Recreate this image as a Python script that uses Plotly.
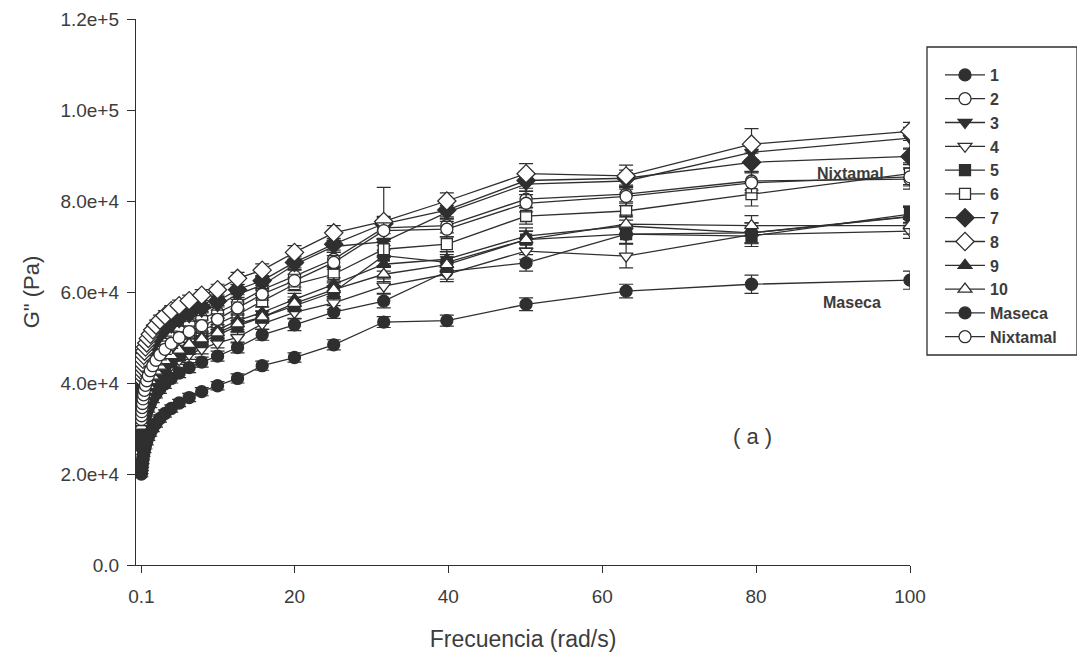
import plotly.graph_objects as go

# ---------------- data ----------------
freq = [0.1, 0.126, 0.158, 0.2, 0.251, 0.316, 0.398, 0.501, 0.631, 0.794,
        1.0, 1.26, 1.58, 2.0, 2.51, 3.16, 3.98, 5.01, 6.31, 7.94,
        10.0, 12.6, 15.8, 20.0, 25.1, 31.6, 39.8, 50.1, 63.1, 79.4, 100.0]

series_names = ["1", "2", "3", "4", "5", "6", "7", "8", "9", "10", "Maseca", "Nixtamal"]

g_1 = [26000, 26700, 27500, 28300, 29100, 30000, 30800, 31700, 32600, 33600,
       34500, 35500, 36600, 37600, 38700, 39800, 41000, 42200, 43400, 44600,
       45900, 47800, 50600, 52800, 55600, 58000, 64500, 66400, 72700, 73000, 76500]
g_2 = [34000, 34800, 35700, 36600, 37500, 38400, 39400, 40400, 41400, 42400,
       43400, 44500, 45600, 46800, 48000, 49100, 50400, 51600, 52900, 54200,
       55500, 57500, 60500, 63500, 67200, 74100, 74600, 80400, 81500, 84400, 84800]
g_3 = [37000, 37800, 38600, 39500, 40400, 41200, 42100, 43100, 44000, 45000,
       45900, 46900, 48000, 49000, 50100, 51200, 52300, 53500, 54600, 55800,
       57000, 59500, 61500, 66000, 70000, 71000, 77500, 83700, 84400, 90700, 93800]
g_4 = [29000, 29800, 30500, 31300, 32200, 33000, 33900, 34800, 35700, 36600,
       37600, 38600, 39600, 40600, 41700, 42800, 43900, 45100, 46300, 47500,
       48800, 50000, 53000, 55500, 57600, 61300, 63900, 69000, 67900, 72600, 73400]
g_5 = [27000, 27900, 28700, 29600, 30600, 31600, 32600, 33600, 34700, 35800,
       36900, 38100, 39300, 40600, 41900, 43200, 44600, 46000, 47500, 49000,
       50500, 52500, 54500, 57000, 60000, 68000, 66500, 71500, 72700, 72300, 77100]
g_6 = [30000, 30900, 31800, 32700, 33600, 34600, 35600, 36600, 37700, 38800,
       39900, 41100, 42300, 43500, 44700, 46000, 47400, 48700, 50100, 51600,
       53000, 55000, 58000, 61700, 63900, 69400, 70500, 76700, 77800, 81500, 86000]
g_7 = [39000, 39800, 40600, 41400, 42200, 43000, 43900, 44700, 45600, 46500,
       47500, 48400, 49400, 50400, 51300, 52400, 53400, 54400, 55500, 56700,
       58000, 60500, 62500, 66500, 70500, 75000, 78000, 84500, 85000, 88500, 89800]
g_8 = [41000, 41800, 42600, 43500, 44300, 45200, 46100, 47000, 47900, 48800,
       49800, 50700, 51700, 52700, 53800, 54800, 55900, 57000, 58100, 59300,
       60500, 63000, 64800, 68700, 73000, 75500, 80000, 86000, 85500, 92500, 95300]
g_9 = [28000, 28900, 29800, 30700, 31600, 32600, 33600, 34700, 35800, 36900,
       38000, 39200, 40400, 41700, 43000, 44300, 45700, 47100, 48600, 50100,
       51700, 53700, 55500, 58400, 61700, 66100, 67200, 72300, 74500, 73000, 76600]
g_10 = [30500, 31300, 32100, 32900, 33800, 34700, 35600, 36500, 37500, 38400,
        39400, 40500, 41500, 42600, 43700, 44900, 46000, 47200, 48500, 49700,
        51000, 53000, 54500, 57500, 60500, 63900, 66000, 71500, 74900, 74600, 74600]
g_maseca = [20000, 20700, 21400, 22100, 22900, 23700, 24500, 25400, 26200, 27100,
            28100, 29000, 30000, 31100, 32200, 33300, 34400, 35600, 36800, 38100,
            39400, 41000, 43800, 45600, 48400, 53400, 53700, 57300, 60200, 61700, 62600]
g_nixtamal = [32000, 32800, 33700, 34600, 35500, 36500, 37400, 38400, 39500, 40500,
              41600, 42700, 43800, 45000, 46200, 47400, 48700, 50000, 51300, 52600,
              54000, 56500, 59500, 62500, 66500, 73500, 73800, 79500, 81000, 84000, 85300]

err_1 = [800, 800, 800, 800, 800, 800, 800, 800, 900, 900, 900, 900, 900, 900, 1000, 1000,
         1000, 1000, 1100, 1100, 1100, 1200, 1200, 1300, 1400, 1500, 1700, 1800, 2000, 2200, 2300]
err_2 = [900, 900, 900, 900, 900, 900, 900, 900, 900, 1000, 1000, 1000, 1000, 1000, 1100, 1100,
         1100, 1100, 1200, 1200, 1200, 1300, 1300, 1400, 1500, 2500, 1600, 1800, 2000, 2000, 2200]
err_3 = [700, 700, 700, 700, 700, 700, 800, 800, 800, 800, 800, 800, 900, 900, 900, 900,
         900, 1000, 1000, 1000, 1000, 1100, 1100, 1200, 1300, 1800, 1500, 1600, 1800, 2200, 2400]
err_4 = [800, 800, 800, 800, 800, 800, 800, 900, 900, 900, 900, 900, 900, 1000, 1000, 1000,
         1000, 1000, 1100, 1100, 1100, 1200, 1200, 1300, 1400, 1600, 1600, 1800, 2600, 2000, 1600]
err_5 = [800, 800, 800, 800, 800, 800, 800, 800, 900, 900, 900, 900, 900, 1000, 1000, 1000,
         1000, 1100, 1100, 1100, 1200, 1200, 1300, 1300, 1400, 2200, 1700, 1900, 2100, 2300, 1800]
err_6 = [900, 900, 900, 900, 900, 900, 900, 900, 1000, 1000, 1000, 1000, 1000, 1100, 1100, 1100,
         1100, 1200, 1200, 1200, 1200, 1300, 1300, 1400, 1500, 1700, 1600, 1800, 2000, 2600, 2400]
err_7 = [700, 700, 700, 700, 700, 700, 700, 800, 800, 800, 800, 800, 800, 900, 900, 900,
         900, 900, 1000, 1000, 1000, 1100, 1100, 1200, 1300, 1400, 1500, 1700, 1800, 2000, 1800]
err_8 = [900, 900, 900, 900, 900, 900, 900, 1000, 1000, 1000, 1000, 1000, 1000, 1100, 1100, 1100,
         1100, 1200, 1200, 1200, 1200, 1300, 1400, 1500, 1600, 7500, 1800, 2200, 2400, 3400, 2000]
err_9 = [800, 800, 800, 800, 800, 800, 800, 800, 900, 900, 900, 900, 900, 900, 1000, 1000,
         1000, 1000, 1100, 1100, 1100, 1200, 1200, 1300, 1400, 1500, 1600, 1800, 2000, 2200, 2000]
err_10 = [900, 900, 900, 900, 900, 900, 900, 900, 1000, 1000, 1000, 1000, 1000, 1000, 1100, 1100,
          1100, 1100, 1200, 1200, 1200, 1300, 1300, 1400, 1500, 1600, 1700, 1900, 2000, 2200, 1900]
err_maseca = [600, 600, 600, 600, 600, 600, 600, 700, 700, 700, 700, 700, 700, 800, 800, 800,
              800, 800, 900, 900, 900, 1000, 1000, 1000, 1100, 1200, 1200, 1400, 1500, 2000, 2000]
err_nixtamal = [900, 900, 900, 900, 900, 900, 900, 900, 1000, 1000, 1000, 1000, 1000, 1000, 1100, 1100,
                1100, 1100, 1200, 1200, 1200, 1300, 1300, 1400, 1500, 1700, 1700, 1900, 2000, 2200, 2000]

values = [g_1, g_2, g_3, g_4, g_5, g_6, g_7, g_8, g_9, g_10, g_maseca, g_nixtamal]
errors = [err_1, err_2, err_3, err_4, err_5, err_6, err_7, err_8, err_9, err_10, err_maseca, err_nixtamal]

x_tick_vals = [0.1, 20, 40, 60, 80, 100]
x_tick_text = ["0.1", "20", "40", "60", "80", "100"]
y_tick_vals = [0, 20000, 40000, 60000, 80000, 100000, 120000]
y_tick_text = ["0.0", "2.0e+4", "4.0e+4", "6.0e+4", "8.0e+4", "1.0e+5", "1.2e+5"]

# ---------------- styles ----------------
DARK = "#2f2f2f"
TXT = "#3c3c3c"
WHITE = "#ffffff"
styles = [
    ("circle", DARK, 12),
    ("circle", WHITE, 12),
    ("triangle-down", DARK, 12),
    ("triangle-down", WHITE, 12),
    ("square", DARK, 11),
    ("square", WHITE, 11),
    ("diamond", DARK, 14),
    ("diamond", WHITE, 14),
    ("triangle-up", DARK, 12),
    ("triangle-up", WHITE, 12),
    ("circle", DARK, 12),
    ("circle", WHITE, 12),
]

fig = go.Figure()
for name, yv, ev, (sym, fill, size) in zip(series_names, values, errors, styles):
    fig.add_trace(go.Scatter(
        x=freq, y=yv, name=name, mode="lines+markers",
        legendgroup=name,
        line=dict(color=DARK, width=1.3),
        marker=dict(symbol=sym, size=size, color=fill, line=dict(color=DARK, width=1.3)),
        error_y=dict(type="data", array=ev, visible=True, color=DARK, thickness=1.2, width=7),
    ))

# page offset (default body margin of the html page)
OFF = 8
W, H = 1085 - OFF, 659 - OFF
# target plot-area edges in page pixels
P_LEFT, P_RIGHT, P_TOP, P_BOTTOM = 136, 910, 19, 565
L = P_LEFT - OFF
R = W - (P_RIGHT - OFF)
T = P_TOP - OFF
B = H - (P_BOTTOM - OFF)
pw = W - L - R
ph = H - T - B


def px_x(p):
    return (p - OFF - L) / pw


def px_y(p):
    return (H - B - (p - OFF)) / ph


fig.update_layout(
    width=W, height=H,
    margin=dict(l=L, r=R, t=T, b=B, autoexpand=False),
    paper_bgcolor="white", plot_bgcolor="white",
    font=dict(family="Liberation Sans, Arial, sans-serif", color=TXT),
    showlegend=True,
    legend=dict(
        x=px_x(940), y=px_y(58), xanchor="left", yanchor="top",
        bgcolor="rgba(0,0,0,0)", borderwidth=0,
        font=dict(size=16, color=TXT, family="Liberation Sans, Arial, sans-serif", weight="bold"),
        tracegroupgap=0, itemwidth=40,
    ),
    xaxis=dict(
        range=[-0.6, 100], showgrid=False, zeroline=False,
        showline=True, linecolor=DARK, linewidth=1.3,
        ticks="outside", ticklen=7, tickwidth=1.2, tickcolor=DARK,
        tickvals=x_tick_vals, ticktext=x_tick_text,
        tickfont=dict(size=19, color=TXT),
        ticklabelstandoff=7,
        title=dict(text="Frecuencia (rad/s)", font=dict(size=23, color=TXT), standoff=24),
    ),
    yaxis=dict(
        range=[0, 120000], showgrid=False, zeroline=False,
        showline=True, linecolor=DARK, linewidth=1.3,
        ticks="outside", ticklen=8, tickwidth=1.2, tickcolor=DARK,
        tickvals=y_tick_vals, ticktext=y_tick_text,
        tickfont=dict(size=19, color=TXT),
        ticklabelstandoff=4,
        title=dict(text='G" (Pa)', font=dict(size=22, color=TXT), standoff=14),
    ),
)

# legend frame
fig.add_shape(type="rect", xref="paper", yref="paper",
              x0=px_x(927), x1=px_x(1077), y0=px_y(355), y1=px_y(47),
              line=dict(color=DARK, width=1.3), fillcolor="rgba(0,0,0,0)", layer="above")

fig.add_annotation(x=px_x(850), y=px_y(173), xref="paper", yref="paper", text="<b>Nixtamal</b>",
                   xanchor="center", yanchor="middle",
                   showarrow=False, font=dict(size=16, color=TXT))
fig.add_annotation(x=px_x(852), y=px_y(303), xref="paper", yref="paper", text="<b>Maseca</b>",
                   xanchor="center", yanchor="middle",
                   showarrow=False, font=dict(size=16, color=TXT))
fig.add_annotation(x=px_x(752), y=px_y(437), xref="paper", yref="paper", text="( a )",
                   xanchor="center", yanchor="middle",
                   showarrow=False, font=dict(size=22, color=TXT))

fig.write_html("out.html")
